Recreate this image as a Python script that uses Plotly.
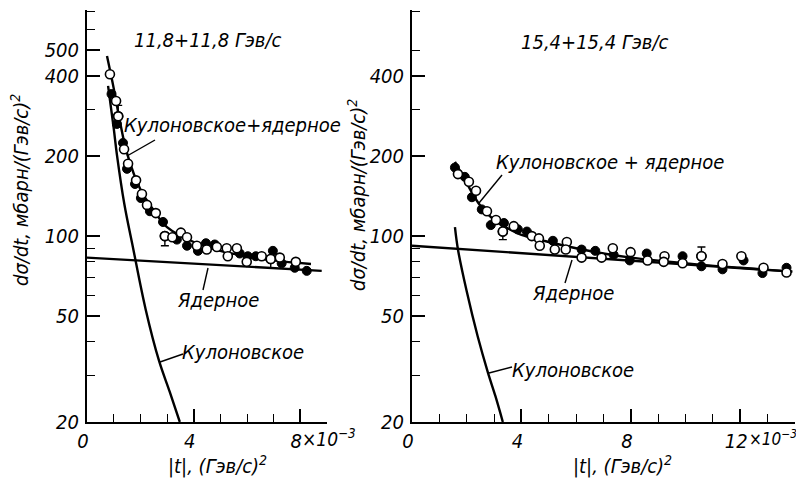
import plotly.graph_objects as go
from plotly.subplots import make_subplots

# ---------------- data (|t| in units of 1e-3 (GeV/c)^2, dσ/dt in mb/(GeV/c)^2) -------------
# Left panel: 11.8 + 11.8 GeV/c
left_open_t = [0.86, 1.09, 1.17, 1.39, 1.54, 1.84, 2.06, 2.25, 2.58, 2.92, 3.2, 3.52, 3.75, 4.12,
               4.49, 4.87, 5.24, 5.28, 5.62, 5.99, 6.55, 6.89, 7.23, 7.83]
left_open_v = [406, 322, 282, 212, 187, 162, 144, 131, 122, 100, 99, 103, 99, 92,
               89, 91, 90, 84, 90, 80, 84, 82, 83, 80]
left_fill_t = [0.92, 1.12, 1.35, 1.5, 1.8, 2.02, 2.36, 2.85, 3.37, 3.75, 4.16, 4.46, 4.79,
               5.73, 6.03, 6.33, 6.97, 7.3, 7.79, 8.24]
left_fill_v = [342, 264, 224, 179, 157, 139, 124, 113, 97, 92, 88, 94, 93,
               86, 84, 84, 88, 79, 76, 74]
left_err_t = [1.17, 2.92, 6.89]
left_err_v = [282, 100, 82]
left_err_up = [28, 0, 0]
left_err_dn = [0, 8, 6]

left_cn_t = [0.75, 1.0, 1.25, 1.5, 2.0, 2.5, 3.0, 4.0, 5.0, 6.0, 7.0, 8.4]
left_cn_v = [475, 360, 265, 205, 150, 125, 108, 95, 88, 84, 81, 78.5]
left_n_t = [0.0, 8.8]
left_n_v = [83, 74]
left_c_t = [0.79, 1.0, 1.12, 1.4, 1.72, 2.2, 2.7, 3.1, 3.48]
left_c_v = [367, 255, 203, 132, 91, 53, 34, 26, 20]

# Right panel: 15.4 + 15.4 GeV/c
right_open_t = [1.68, 2.08, 2.34, 2.74, 3.07, 3.32, 3.72, 4.38, 4.64, 4.67, 5.22, 5.66, 5.62,
                6.2, 6.93, 7.34, 7.99, 8.61, 9.23, 9.2, 9.89, 10.58, 11.35, 12.04, 12.85, 13.69]
right_open_v = [171, 160, 148, 124, 115, 104, 109, 100, 98, 92, 89, 95, 89,
                83, 83, 90, 87, 81, 84, 80, 79, 84, 78.5, 84, 76, 73]
right_fill_t = [1.57, 1.93, 2.19, 2.55, 2.88, 3.36, 3.87, 4.2, 5.15, 6.2, 6.7, 7.37, 7.96,
                8.58, 9.89, 10.58, 11.35, 12.12, 12.81, 13.69]
right_fill_v = [181, 167, 140, 126, 110, 112, 106, 104, 96, 89, 88, 85, 81,
                86, 84, 77, 75, 81, 72.6, 76]
right_err_t = [3.32, 10.58]
right_err_v = [104, 84]
right_err_up = [0, 7]
right_err_dn = [7, 0]

right_cn_t = [1.57, 2.0, 2.5, 3.0, 3.5, 4.0, 5.0, 6.0, 7.0, 8.0, 10.0, 12.0, 13.9]
right_cn_v = [190, 158, 130, 115, 107, 101, 95, 90, 86, 83, 79, 76, 73.5]
right_n_t = [0.0, 13.9]
right_n_v = [92, 73.5]
right_c_t = [1.57, 1.68, 2.0, 2.4, 2.77, 3.05, 3.32]
right_c_v = [108, 89, 62, 42, 30.8, 25, 20]

left_ytickvals = [20, 50, 100, 200, 400, 500]
left_yminor = [30, 40, 60, 70, 80, 90, 300, 600, 700]
right_ytickvals = [20, 50, 100, 200, 400]
right_yminor = [30, 40, 60, 70, 80, 90, 300, 500, 700]
left_xtickvals = [0, 4, 8]
right_xtickvals = [0, 4, 8, 12]

# ---------------- figure ----------------
# The page body has an 8px margin, so the figure is 8px smaller and every
# target screen position is shifted by 8px.
OFF = 8
W, H = 804 - OFF, 486 - OFF
FONT = "Liberation Sans Narrow, DejaVu Sans Condensed, DejaVu Sans, sans-serif"
BLACK = "black"

def PX(px):
    return (px - OFF) / W

def PY(py):
    return 1 - (py - OFF) / H

fig = make_subplots(rows=1, cols=2)

def add_panel(col, open_t, open_v, fill_t, fill_v, err_t, err_v, eu, ed,
              cn_t, cn_v, n_t, n_v, c_t, c_v):
    line = dict(color=BLACK, width=2.4, shape="spline")
    for tt, vv in ((cn_t, cn_v), (n_t, n_v), (c_t, c_v)):
        fig.add_trace(go.Scatter(x=tt, y=vv, mode="lines", line=line,
                                 hoverinfo="skip", showlegend=False), row=1, col=col)
    fig.add_trace(go.Scatter(x=err_t, y=err_v, mode="markers",
                             marker=dict(size=9, color="white", line=dict(color=BLACK, width=1.6)),
                             error_y=dict(type="data", symmetric=False, array=eu, arrayminus=ed,
                                          color=BLACK, thickness=1.4, width=4),
                             showlegend=False), row=1, col=col)
    fig.add_trace(go.Scatter(x=fill_t, y=fill_v, mode="markers",
                             marker=dict(size=9, color=BLACK, line=dict(color=BLACK, width=1)),
                             showlegend=False), row=1, col=col)
    fig.add_trace(go.Scatter(x=open_t, y=open_v, mode="markers",
                             marker=dict(size=9, color="white", line=dict(color=BLACK, width=1.6)),
                             showlegend=False), row=1, col=col)

add_panel(1, left_open_t, left_open_v, left_fill_t, left_fill_v, left_err_t, left_err_v,
          left_err_up, left_err_dn, left_cn_t, left_cn_v, left_n_t, left_n_v, left_c_t, left_c_v)
add_panel(2, right_open_t, right_open_v, right_fill_t, right_fill_v, right_err_t, right_err_v,
          right_err_up, right_err_dn, right_cn_t, right_cn_v, right_n_t, right_n_v, right_c_t, right_c_v)

tickfont = dict(family=FONT, size=20, color=BLACK, style="italic")
ydom = [PY(422), PY(10)]
yrange = [1.30103, 2.85]

common_x = dict(showline=True, linecolor=BLACK, linewidth=2, showgrid=False, zeroline=False,
                automargin=False, ticklabelshift=-4,
                ticks="inside", ticklen=13, tickwidth=1.6, tickcolor=BLACK, tickfont=tickfont,
                minor=dict(dtick=1, ticks="inside", ticklen=8, tickwidth=1.4, tickcolor=BLACK))
common_y = dict(type="log", range=yrange, domain=ydom, showline=True, linecolor=BLACK, linewidth=2,
                automargin=False,
                showgrid=False, zeroline=False, ticks="inside", ticklen=13, tickwidth=1.6,
                tickcolor=BLACK, tickfont=tickfont, ticklabelstandoff=2)

fig.update_xaxes(domain=[PX(87), PX(327)], range=[0, 9], tickmode="array",
                 tickvals=left_xtickvals, ticktext=[str(v) for v in left_xtickvals],
                 row=1, col=1, **common_x)
fig.update_xaxes(domain=[PX(412), PX(795)], range=[0, 14], tickmode="array",
                 tickvals=right_xtickvals, ticktext=[str(v) for v in right_xtickvals],
                 row=1, col=2, **common_x)
fig.update_yaxes(tickmode="array", tickvals=left_ytickvals,
                 ticktext=[str(v) for v in left_ytickvals],
                 minor=dict(tickmode="array", tickvals=left_yminor, ticks="inside", ticklen=8,
                            tickwidth=1.4, tickcolor=BLACK),
                 row=1, col=1, **common_y)
fig.update_yaxes(tickmode="array", tickvals=right_ytickvals,
                 ticktext=[str(v) for v in right_ytickvals],
                 minor=dict(tickmode="array", tickvals=right_yminor, ticks="inside", ticklen=8,
                            tickwidth=1.4, tickcolor=BLACK),
                 row=1, col=2, **common_y)

txtfont = dict(family=FONT, size=20, color=BLACK, style="italic")
ann = []
def text(s, px, py, angle=0, xanchor="center", size=20):
    f = dict(txtfont)
    f["size"] = size
    ann.append(dict(text=s, x=PX(px), y=PY(py), xref="paper", yref="paper", showarrow=False,
                    xanchor=xanchor, yanchor="middle", textangle=angle, font=f))

text("11,8+11,8 Гэв/с", 207, 40)
text("Кулоновское+ядерное", 233, 125)
text("Ядерное", 218, 300)
text("Кулоновское", 243, 352)
text("15,4+15,4 Гэв/с", 594, 42)
text("Кулоновское + ядерное", 610, 162)
text("Ядерное", 573, 293)
text("Кулоновское", 573, 370)
text("|t|, (Гэв/с)<sup>2</sup>", 217, 465)
text("|t|, (Гэв/с)<sup>2</sup>", 622, 465)
text("dσ/dt, мбарн/(Гэв/с)<sup>2</sup>", 20, 190, angle=-90)
text("dσ/dt, мбарн/(Гэв/с)<sup>2</sup>", 357, 195, angle=-90)
text("×10<sup>−3</sup>", 300, 438, xanchor="left", size=19)
text("×10<sup>−3</sup>", 747, 438, xanchor="left", size=17)

shapes = []
def seg(p1, p2):
    shapes.append(dict(type="line", xref="paper", yref="paper",
                       x0=PX(p1[0]), y0=PY(p1[1]), x1=PX(p2[0]), y1=PY(p2[1]),
                       line=dict(color=BLACK, width=1.4)))

seg((127, 156), (155, 140))
seg((208, 268), (203, 290))
seg((160, 362), (183, 354))
seg((479, 203), (502, 175))
seg((572, 260), (565, 283))
seg((489, 373), (512, 367))

fig.update_layout(width=W, height=H, margin=dict(l=0, r=0, t=0, b=0, autoexpand=False),
                  paper_bgcolor="white", plot_bgcolor="white", showlegend=False,
                  annotations=ann, shapes=shapes, font=dict(family=FONT, color=BLACK))

fig.write_html("out.html")
